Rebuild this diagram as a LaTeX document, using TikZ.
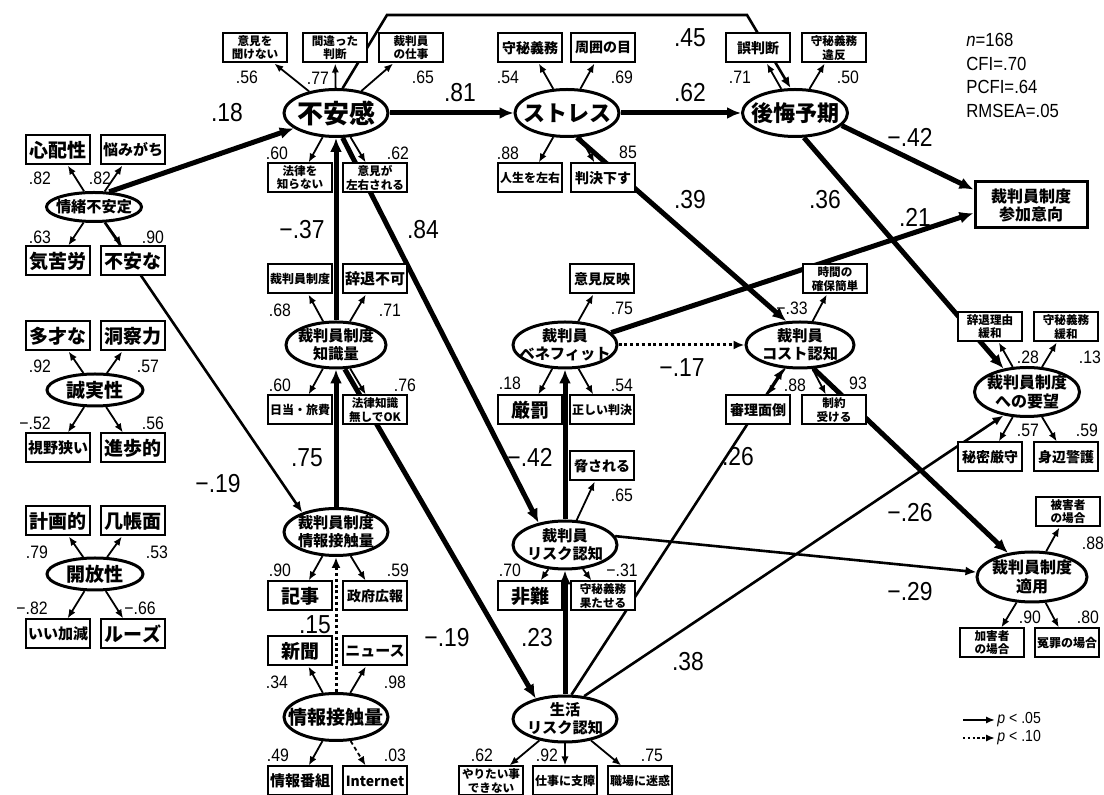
\documentclass[tikz,border=0pt]{standalone}
\usepackage{fontspec}
\newfontfamily\jp{Noto Sans CJK JP}
\newfontfamily\num{Liberation Sans}[FakeStretch=0.88]
\usetikzlibrary{shapes.geometric,arrows.meta}
\pgfdeclarelayer{bg}
\pgfsetlayers{bg,main}

\tikzset{
  lat/.style={ellipse, draw, line width=1.5pt, fill=white, inner sep=-6pt, align=center,
    minimum width=52pt, minimum height=23.5pt, font=\jp\bfseries\fontsize{7.6}{9}\selectfont},
  latB/.style={lat, font=\jp\bfseries\fontsize{13}{15}\selectfont},
  latM/.style={lat, font=\jp\bfseries\fontsize{11}{13}\selectfont},
  latS/.style={lat, minimum width=48pt, minimum height=16pt, font=\jp\bfseries\fontsize{9.5}{11}\selectfont},
  obs/.style={rectangle, draw, line width=1pt, fill=white, inner sep=0.5pt, align=center,
    minimum width=32pt, minimum height=14.5pt, font=\jp\bfseries\fontsize{7}{8}\selectfont},
  obsL/.style={obs, font=\jp\bfseries\fontsize{9.5}{11}\selectfont},
  obsM/.style={obs, font=\jp\bfseries\fontsize{7.5}{8.5}\selectfont},
  obsS/.style={obs, font=\jp\bfseries\fontsize{6}{7}\selectfont},
  obsT/.style={obs, font=\jp\bfseries\fontsize{5.8}{6.6}\selectfont},
  ind/.style={-{Latex[length=4.5pt,width=3.6pt]}, line width=0.9pt},
  pth/.style={-{Latex[length=7pt,width=6pt]}, line width=2.5pt},
  pthm/.style={-{Latex[length=5.5pt,width=4.5pt]}, line width=1.3pt},
  pthd/.style={pthm, line width=1.5pt, dash pattern=on 1.5pt off 1.4pt},
  coef/.style={font=\num\fontsize{13}{15}\selectfont},
  load/.style={font=\num\fontsize{9}{10}\selectfont},
}

\begin{document}
\begin{tikzpicture}[x=0.5pt,y=-0.5pt]
  \useasboundingbox (0,0) rectangle (1104,795);

  % personality
  \node[lat, minimum width=47.5pt, minimum height=14.5pt] (joucho) at (94,207) {情緒不安定};
  \node[latS] (seijitsu) at (95,390) {誠実性};
  \node[latS] (kaihou) at (95,574) {開放性};
  \node[obsL] (shinpai) at (58,150) {心配性};
  \node[obsM] (nayami) at (133,150) {悩みがち};
  \node[obsL] (kigurou) at (58,261) {気苦労};
  \node[obsL] (fuanna) at (133,261) {不安な};
  \node[obsL] (tasai) at (58,336) {多才な};
  \node[obsL] (dousatsu) at (133,336) {洞察力};
  \node[obsM] (shiya) at (58,448) {視野狭い};
  \node[obsL] (shinpo) at (133,448) {進歩的};
  \node[obsL] (keikaku) at (58,521) {計画的};
  \node[obsL] (kichou) at (133,521) {几帳面};
  \node[obsM] (iikagen) at (58,634) {いい加減};
  \node[obsL] (ruuzu) at (133,634) {ルーズ};

  % top row
  \node[latB] (fuan) at (336,113) {不安感};
  \node[latM] (stress) at (567,113) {ストレス};
  \node[latM, minimum width=52.5pt] (koukai) at (795,113) {後悔予期};
  \node[obsT] (f1) at (255,48) {意見を\\聞けない};
  \node[obsT] (f2) at (335,48) {間違った\\判断};
  \node[obsT] (f3) at (411,48) {裁判員\\の仕事};
  \node[obsT] (f4) at (300,178) {法律を\\知らない};
  \node[obsT] (f5) at (375,178) {意見が\\左右される};
  \node[obs] (s1) at (530,48) {守秘義務};
  \node[obs] (s2) at (603,48) {周囲の目};
  \node[obsS] (s3) at (530,178) {人生を左右};
  \node[obs] (s4) at (603,178) {判決下す};
  \node[obs] (k1) at (758,48) {誤判断};
  \node[obsT] (k2) at (834,48) {守秘義務\\違反};
  \node[obs, minimum width=56pt, minimum height=23pt, line width=1.5pt,
    font=\jp\bfseries\fontsize{8}{9}\selectfont] (sanka) at (1031,205) {裁判員制度\\参加意向};

  % knowledge and information
  \node[lat, minimum width=50pt, minimum height=23pt] (chishiki) at (336,345) {裁判員制度\\知識量};
  \node[lat] (sesshoku) at (336,532) {裁判員制度\\情報接触量};
  \node[latS, minimum width=52pt, minimum height=23.5pt] (joho) at (336,717) {情報接触量};
  \node[obsS] (t1) at (300,279) {裁判員制度};
  \node[obsM] (t2) at (375,279) {辞退不可};
  \node[obsS] (t3) at (300,410) {日当・旅費};
  \node[obsT] (t4) at (375,410) {法律知識\\無しでOK};
  \node[obsL] (i1) at (300,596) {記事};
  \node[obs] (i2) at (375,596) {政府広報};
  \node[obsL] (j1) at (300,651) {新聞};
  \node[obsM] (j2) at (375,651) {ニュース};
  \node[obsM] (j3) at (300,781) {情報番組};
  \node[obs] (j4) at (375,781) {Internet};

  % benefit, risk, cost
  \node[lat, minimum height=23pt] (benefit) at (565,345) {裁判員\\ベネフィット};
  \node[lat, minimum width=54pt, minimum height=23pt] (cost) at (800,345) {裁判員\\コスト認知};
  \node[lat, minimum height=24pt] (risk) at (565,545) {裁判員\\リスク認知};
  \node[lat, minimum height=23pt] (seikatsu) at (565,719) {生活\\リスク認知};
  \node[obs] (b1) at (602,279) {意見反映};
  \node[obsL] (b2) at (530,410) {厳罰};
  \node[obsS] (b3) at (602,410) {正しい判決};
  \node[obs] (r1) at (602,466) {脅される};
  \node[obsL] (r2) at (530,596) {非難};
  \node[obsT] (r3) at (603,596) {守秘義務\\果たせる};
  \node[obsT] (g1) at (491,781) {やりたい事\\できない};
  \node[obsS] (g2) at (565,781) {仕事に支障};
  \node[obsS] (g3) at (640,781) {職場に迷惑};
  \node[obsT] (c1) at (835,279) {時間の\\確保簡単};
  \node[obs] (c2) at (758,410) {審理面倒};
  \node[obsT] (c3) at (834,410) {制約\\受ける};

  % wishes and application
  \node[lat, minimum width=52.5pt, minimum height=24.5pt, font=\jp\bfseries\fontsize{8}{9.5}\selectfont] (youbou) at (1027,392) {裁判員制度\\への要望};
  \node[lat, minimum width=55pt, minimum height=25pt, font=\jp\bfseries\fontsize{8}{9.5}\selectfont] (tekiyou) at (1032,577) {裁判員制度\\適用};
  \node[obsT] (y1) at (990,327) {辞退理由\\緩和};
  \node[obsT] (y2) at (1066,327) {守秘義務\\緩和};
  \node[obs] (y3) at (990,457) {秘密厳守};
  \node[obs] (y4) at (1066,457) {身辺警護};
  \node[obsT] (a1) at (1068,512) {被害者\\の場合};
  \node[obsT] (a2) at (992,643) {加害者\\の場合};
  \node[obsS] (a3) at (1067,643) {冤罪の場合};

  % structural paths
  \begin{pgfonlayer}{bg}
    \fill[white] (0,0) rectangle (1104,795);
    \draw[pth] (joucho.45) -- (fuan.200);
    \draw[pth] (fuan) -- (stress);
    \draw[pth] (stress) -- (koukai);
    \draw[pthm] (fuan.75) -- (387,15) -- (747,15) -- (koukai.100);
    \draw[pth] (koukai.-15) -- (sanka.165);
    \draw[pth] (benefit.15) -- (sanka.188);
    \draw[pth] (koukai.-70) -- (youbou.135);
    \draw[pth] (stress.-68) -- (cost.120);
    \draw[pth] (chishiki) -- (fuan);
    \draw[pth] (fuan.-75) -- (risk.140);
    \draw[pth] (sesshoku) -- (chishiki);
    \draw[pthm] (joucho.-55) -- (sesshoku.150);
    \draw[pth] (chishiki.-70) -- (seikatsu.145);
    \draw[pth] (risk) -- (benefit);
    \draw[pth] (seikatsu) -- (risk);
    \draw[pthd] (benefit) -- (cost);
    \draw[pthm] (seikatsu.75) -- (cost.-125);
    \draw[pthm] (seikatsu.50) -- (youbou.-135);
    \draw[pthm] (risk.10) -- (tekiyou.175);
    \draw[pth] (cost.-60) -- (tekiyou.135);
    \draw[pthd] (joho) -- (sesshoku);
  \end{pgfonlayer}

  % loadings
  \foreach \a/\b in {joucho/shinpai,joucho/nayami,joucho/kigurou,joucho/fuanna,
      seijitsu/tasai,seijitsu/dousatsu,seijitsu/shiya,seijitsu/shinpo,
      kaihou/keikaku,kaihou/kichou,kaihou/iikagen,kaihou/ruuzu,
      fuan/f1,fuan/f2,fuan/f3,fuan/f4,fuan/f5,stress/s1,stress/s2,stress/s3,stress/s4,
      koukai/k1,koukai/k2,chishiki/t1,chishiki/t2,chishiki/t3,chishiki/t4,
      sesshoku/i1,sesshoku/i2,joho/j1,joho/j2,joho/j3,
      benefit/b1,benefit/b2,benefit/b3,risk/r1,risk/r2,risk/r3,
      seikatsu/g1,seikatsu/g2,seikatsu/g3,cost/c1,cost/c2,cost/c3,
      youbou/y1,youbou/y2,youbou/y3,youbou/y4,tekiyou/a1,tekiyou/a2,tekiyou/a3}
    \draw[ind] (\a) -- (\b);
  \draw[ind,dash pattern=on 2pt off 1.5pt] (joho) -- (j4);

  \foreach \n/\x/\y/\t in {1/40/178/.82, 2/100/178/.82, 3/40/237/.63, 4/153/237/.90,
      5/40/366/.92, 6/148/366/.57, 7/35/423/−.52, 8/153/423/.56,
      9/37/552/.79, 10/157/552/.53, 11/32/608/−.82, 12/140/608/−.66,
      13/247/77/.56, 14/318/78/.77, 15/423/77/.65, 16/277/153/.60, 17/398/153/.62,
      18/508/77/.54, 19/622/77/.69, 20/508/153/.88, 21/628/152/85,
      22/740/77/.71, 23/848/77/.50,
      24/280/310/.68, 25/390/310/.71, 26/280/385/.60, 27/405/385/.76,
      28/622/308/.75, 29/510/383/.18, 30/622/385/.54,
      31/792/308/−.33, 32/795/385/.88, 33/858/383/93,
      34/1028/357/.28, 35/1090/357/.13, 36/1028/430/.57, 37/1087/430/.59,
      38/1093/543/.88, 39/1030/617/.90, 40/1088/617/.80,
      41/622/495/.65, 42/510/570/.70, 43/622/570/−.31,
      44/280/570/.90, 45/398/570/.59, 46/277/682/.34, 47/395/682/.98,
      48/278/755/.49, 49/395/755/.03, 50/482/755/.62, 51/547/755/.92, 52/652/755/.75}
    \node[load] (ld\n) at (\x,\y) {\t};

  % path coefficients
  \foreach \n/\x/\y/\t in {a/227/113/.18, b/460/93/.81, c/690/93/.62, d/690/38/.45,
      e/910/137/−.42, f/915/217/.21, g/825/200/.36, h/690/200/.39,
      i/302/230/−.37, j/423/230/.84, k/307/458/.75, l/218/484/−.19,
      m/530/457/−.42, n/682/368/−.17, o/738/457/.26, p/910/513/−.26,
      q/910/592/−.29, r/315/625/.15, s/447/638/−.19, t/537/638/.23, u/688/662/.38}
    \node[coef] (cf\n) at (\x,\y) {\t};

  % fit and legend
  \node[anchor=north west, align=left, inner sep=0pt,
    font=\num\fontsize{9.5}{11.75}\selectfont] (fitidx) at (966,33)
    {\textit{n}=168\\CFI=.70\\PCFI=.64\\RMSEA=.05};
  \coordinate (p05a) at (963,720);
  \coordinate (p05b) at (995,720);
  \coordinate (p10a) at (963,738);
  \coordinate (p10b) at (995,738);
  \draw[-{Latex[length=4.5pt,width=3.6pt]}, line width=1.2pt] (p05a) -- (p05b);
  \draw[-{Latex[length=4.5pt,width=3.6pt]}, line width=1.2pt, dash pattern=on 1.2pt off 1.2pt] (p10a) -- (p10b);
  \node[anchor=west, inner sep=1pt, font=\num\fontsize{8}{9}\selectfont] (p05) at (p05b) {\textit{p} < .05};
  \node[anchor=west, inner sep=1pt, font=\num\fontsize{8}{9}\selectfont] (p10) at (p10b) {\textit{p} < .10};
\end{tikzpicture}
\end{document}
